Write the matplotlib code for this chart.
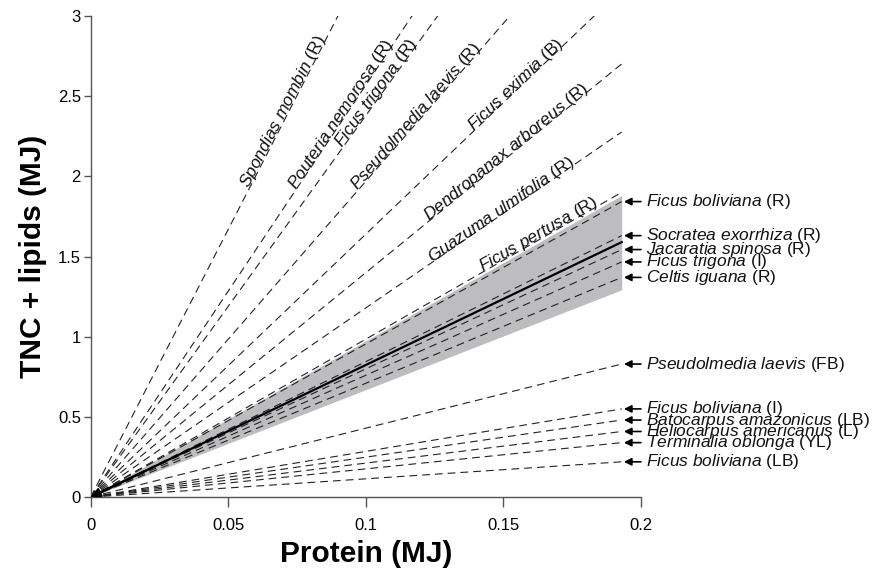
import numpy as np
import matplotlib
matplotlib.use('Agg')
import matplotlib.pyplot as plt

plt.rcParams['font.family'] = ['Liberation Sans', 'DejaVu Sans']
plt.rcParams['mathtext.fontset'] = 'custom'
plt.rcParams['mathtext.it'] = 'Liberation Sans:italic'
plt.rcParams['mathtext.rm'] = 'Liberation Sans'

# ratio of (TNC + lipids) to protein energy for each fruit / leaf
top_names = ['Spondias mombin', 'Pouteria nemorosa', 'Ficus trigona', 'Pseudolmedia laevis',
             'Ficus eximia', 'Dendropanax arboreus', 'Guazuma ulmifolia', 'Ficus pertusa']
top_codes = ['R', 'R', 'R', 'R', 'B', 'R', 'R', 'R']
top_slopes = [33.4, 25.7, 23.8, 19.7, 16.4, 14.0, 11.8, 9.85]
top_label_x = [0.0575, 0.0745, 0.0915, 0.097, 0.139, 0.123, 0.124, 0.1425]

right_names = ['Ficus boliviana', 'Socratea exorrhiza', 'Jacaratia spinosa', 'Ficus trigona',
               'Celtis iguana', 'Pseudolmedia laevis', 'Ficus boliviana', 'Batocarpus amazonicus',
               'Heliocarpus americanus', 'Terminalia oblonga', 'Ficus boliviana']
right_codes = ['R', 'R', 'R', 'I', 'R', 'FB', 'I', 'LB', 'L', 'YL', 'LB']
right_slopes = [9.55, 8.45, 8.0, 7.6, 7.1, 4.3, 2.85, 2.49, 2.12, 1.76, 1.14]

mean_slope = 8.24
band_low, band_high = 6.7, 9.75
x_end = 0.193


def label(name, code):
    return r'$\mathit{' + name.replace(' ', r'\ ') + '}$ (' + code + ')'


fig = plt.figure(figsize=(8.89, 5.76), dpi=100)
ax = fig.add_axes([0.102, 0.137, 0.619, 0.835])
ax.set_xlim(0, 0.2)
ax.set_ylim(0, 3)

xs = np.array([0, x_end])
ax.fill_between(xs, band_low * xs, band_high * xs, color='#bdbdbf', lw=0, zorder=1)

for s in top_slopes + right_slopes:
    ax.plot(xs, s * xs, color='#222222', lw=0.8, dashes=(7, 4.5), zorder=2)

ax.plot(xs, mean_slope * xs, color='black', lw=1.6, zorder=3)
ax.annotate('', xy=(0, 0), xytext=(0.02, 0.02 * mean_slope),
            arrowprops=dict(arrowstyle='-|>', color='black', lw=1.6,
                            mutation_scale=14, shrinkA=0, shrinkB=0), zorder=4)

# labels along the steep lines
for name, code, s, lx in zip(top_names, top_codes, top_slopes, top_label_x):
    ang = np.degrees(np.arctan2(s, 1.0))
    ax.text(lx, s * lx, label(name, code), rotation=ang, transform_rotates_text=True,
            rotation_mode='anchor', ha='left', va='baseline', fontsize=12.5,
            color='#111111', zorder=5)

# arrow labels on the right
for name, code, s in zip(right_names, right_codes, right_slopes):
    y = s * x_end
    ax.annotate('', xy=(x_end + 0.0008, y), xytext=(0.2, y),
                arrowprops=dict(arrowstyle='-|>', color='black', lw=1.2,
                                mutation_scale=11, shrinkA=0, shrinkB=0),
                annotation_clip=False)
    ax.text(0.2018, y, label(name, code), ha='left', va='center', fontsize=12.5,
            color='#111111', clip_on=False)

for side in ['top', 'right']:
    ax.spines[side].set_visible(False)
for side in ['left', 'bottom']:
    ax.spines[side].set_color('#555555')
    ax.spines[side].set_linewidth(1.0)

ax.set_xticks([0, 0.05, 0.1, 0.15, 0.2])
ax.set_xticklabels(['0', '0.05', '0.1', '0.15', '0.2'])
ax.set_yticks([0, 0.5, 1, 1.5, 2, 2.5, 3])
ax.set_yticklabels(['0', '0.5', '1', '1.5', '2', '2.5', '3'])
ax.tick_params(axis='x', length=7, width=1, color='#555555', pad=8, labelsize=12)
ax.tick_params(axis='y', length=5, width=1, color='#555555', pad=2, labelsize=12)

ax.set_xlabel('Protein (MJ)', labelpad=5, fontsize=21.5, fontweight='bold')
ax.set_ylabel('TNC + lipids (MJ)', labelpad=8, fontsize=21.5, fontweight='bold')

fig.savefig('out.png', dpi=100)
